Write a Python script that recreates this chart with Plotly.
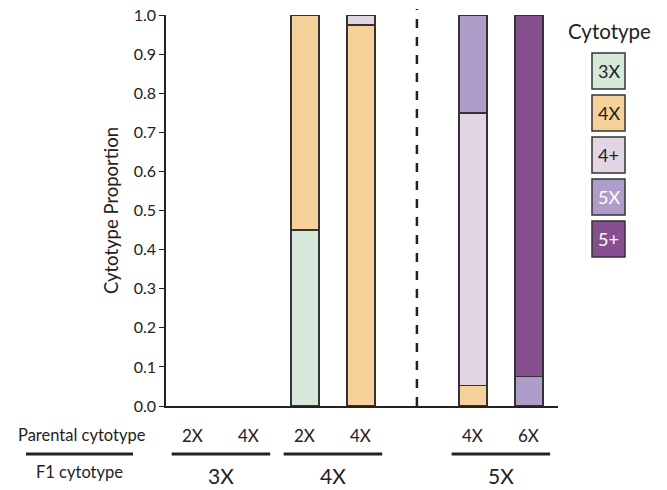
import plotly.graph_objects as go

# ---- data ----
categories = ["3X|2X", "3X|4X", "4X|2X", "4X|4X", "gap", "5X|4X", "5X|6X"]
parental_labels = ["2X", "4X", "2X", "4X", "", "4X", "6X"]
f1_groups = [("3X", "3X|2X", "3X|4X"), ("4X", "4X|2X", "4X|4X"), ("5X", "5X|4X", "5X|6X")]

cytotypes = ["3X", "4X", "4+", "5X", "5+"]
values = {
    "3X": [None, None, 0.45, None, None, None, None],
    "4X": [None, None, 0.55, 0.975, None, 0.052, None],
    "4+": [None, None, None, 0.025, None, 0.698, None],
    "5X": [None, None, None, None, None, 0.25, 0.075],
    "5+": [None, None, None, None, None, None, 0.925],
}
colors = {"3X": "#D6E8DA", "4X": "#F7D19A", "4+": "#E3D6E4", "5X": "#AE9DC8", "5+": "#874E90"}
text_colors = {"3X": "#222222", "4X": "#222222", "4+": "#222222", "5X": "#FFFFFF", "5+": "#FFFFFF"}
y_ticks = [0.0, 0.1, 0.2, 0.3, 0.4, 0.5, 0.6, 0.7, 0.8, 0.9, 1.0]

FONT = "Lato, Carlito, Calibri, sans-serif"
W, H = 667, 490
L, R, T, B = 166, 109, 15, 84
pw, ph = W - L - R, H - T - B


def px(x):
    return (x - L) / pw


def py(y):
    return (H - B - y) / ph


fig = go.Figure()
for c in cytotypes:
    fig.add_trace(go.Bar(
        x=categories, y=values[c], name=c,
        marker=dict(color=colors[c], line=dict(color="#333333", width=1.5)),
        width=0.5, showlegend=False,
    ))

# dashed separator
fig.add_shape(type="line", xref="x", yref="paper", x0="gap", x1="gap", y0=0, y1=py(9),
              line=dict(color="#222222", width=2.5, dash="dash"))

# parental labels
for cat, lab in zip(categories, parental_labels):
    if lab:
        fig.add_annotation(x=cat, y=py(435), xref="x", yref="paper", text=lab, showarrow=False,
                           xanchor="center", yanchor="middle",
                           font=dict(family=FONT, size=17, color="#222222"))

# group lines and F1 labels
for name, a, b in f1_groups:
    ia, ib = categories.index(a), categories.index(b)
    fig.add_shape(type="line", xref="x", yref="paper", x0=ia - 0.38, x1=ib + 0.38,
                  y0=py(454), y1=py(454), line=dict(color="#222222", width=3))
    fig.add_annotation(x=(ia + ib) / 2, y=py(475), xref="x", yref="paper", text=name,
                       showarrow=False, xanchor="center", yanchor="middle",
                       font=dict(family=FONT, size=21, color="#222222"))

# left-side row labels
fig.add_annotation(x=px(82), y=py(435), xref="paper", yref="paper", text="Parental cytotype",
                   showarrow=False, xanchor="center", yanchor="middle",
                   font=dict(family=FONT, size=16.5, color="#222222"))
fig.add_annotation(x=px(79), y=py(472), xref="paper", yref="paper", text="F1 cytotype",
                   showarrow=False, xanchor="center", yanchor="middle",
                   font=dict(family=FONT, size=16.5, color="#222222"))
fig.add_shape(type="line", xref="paper", yref="paper", x0=px(26), x1=px(133), y0=py(454), y1=py(454),
              line=dict(color="#222222", width=3))

# custom legend
fig.add_annotation(x=px(609), y=py(31), xref="paper", yref="paper", text="Cytotype",
                   showarrow=False, xanchor="center", yanchor="middle",
                   font=dict(family=FONT, size=20.5, color="#222222"))
for i, c in enumerate(cytotypes):
    top = 53 + 42 * i
    bot = top + 36
    fig.add_shape(type="rect", xref="paper", yref="paper", x0=px(592), x1=px(625),
                  y0=py(bot), y1=py(top), fillcolor=colors[c],
                  line=dict(color="#333333", width=1.5))
    fig.add_annotation(x=px(608.5), y=py((top + bot) / 2), xref="paper", yref="paper", text=c,
                       showarrow=False, xanchor="center", yanchor="middle",
                       font=dict(family=FONT, size=18, color=text_colors[c]))

fig.update_layout(
    width=W, height=H, barmode="stack",
    margin=dict(l=L, r=R, t=T, b=B, autoexpand=False),
    plot_bgcolor="white", paper_bgcolor="white",
    font=dict(family=FONT, color="#222222"),
    xaxis=dict(type="category", categoryorder="array", categoryarray=categories,
               range=[-0.482, 6.52], showticklabels=False, ticks="", showgrid=False,
               showline=True, linecolor="#222222", linewidth=1.5, zeroline=False),
    yaxis=dict(range=[0, 1.0], tickvals=y_ticks, ticktext=[f"{v:.1f}" for v in y_ticks],
               ticks="outside", ticklen=5, tickwidth=1, tickcolor="#222222",
               showline=True, linecolor="#222222", linewidth=1.5, showgrid=False, zeroline=False,
               automargin=False,
               tickfont=dict(family=FONT, size=16, color="#222222"),
               title=dict(text="Cytotype Proportion", font=dict(family=FONT, size=18.5, color="#222222"),
                          standoff=10)),
)

fig.write_html("out.html", config={"displayModeBar": False},
               post_script="document.body.style.margin='0';")
